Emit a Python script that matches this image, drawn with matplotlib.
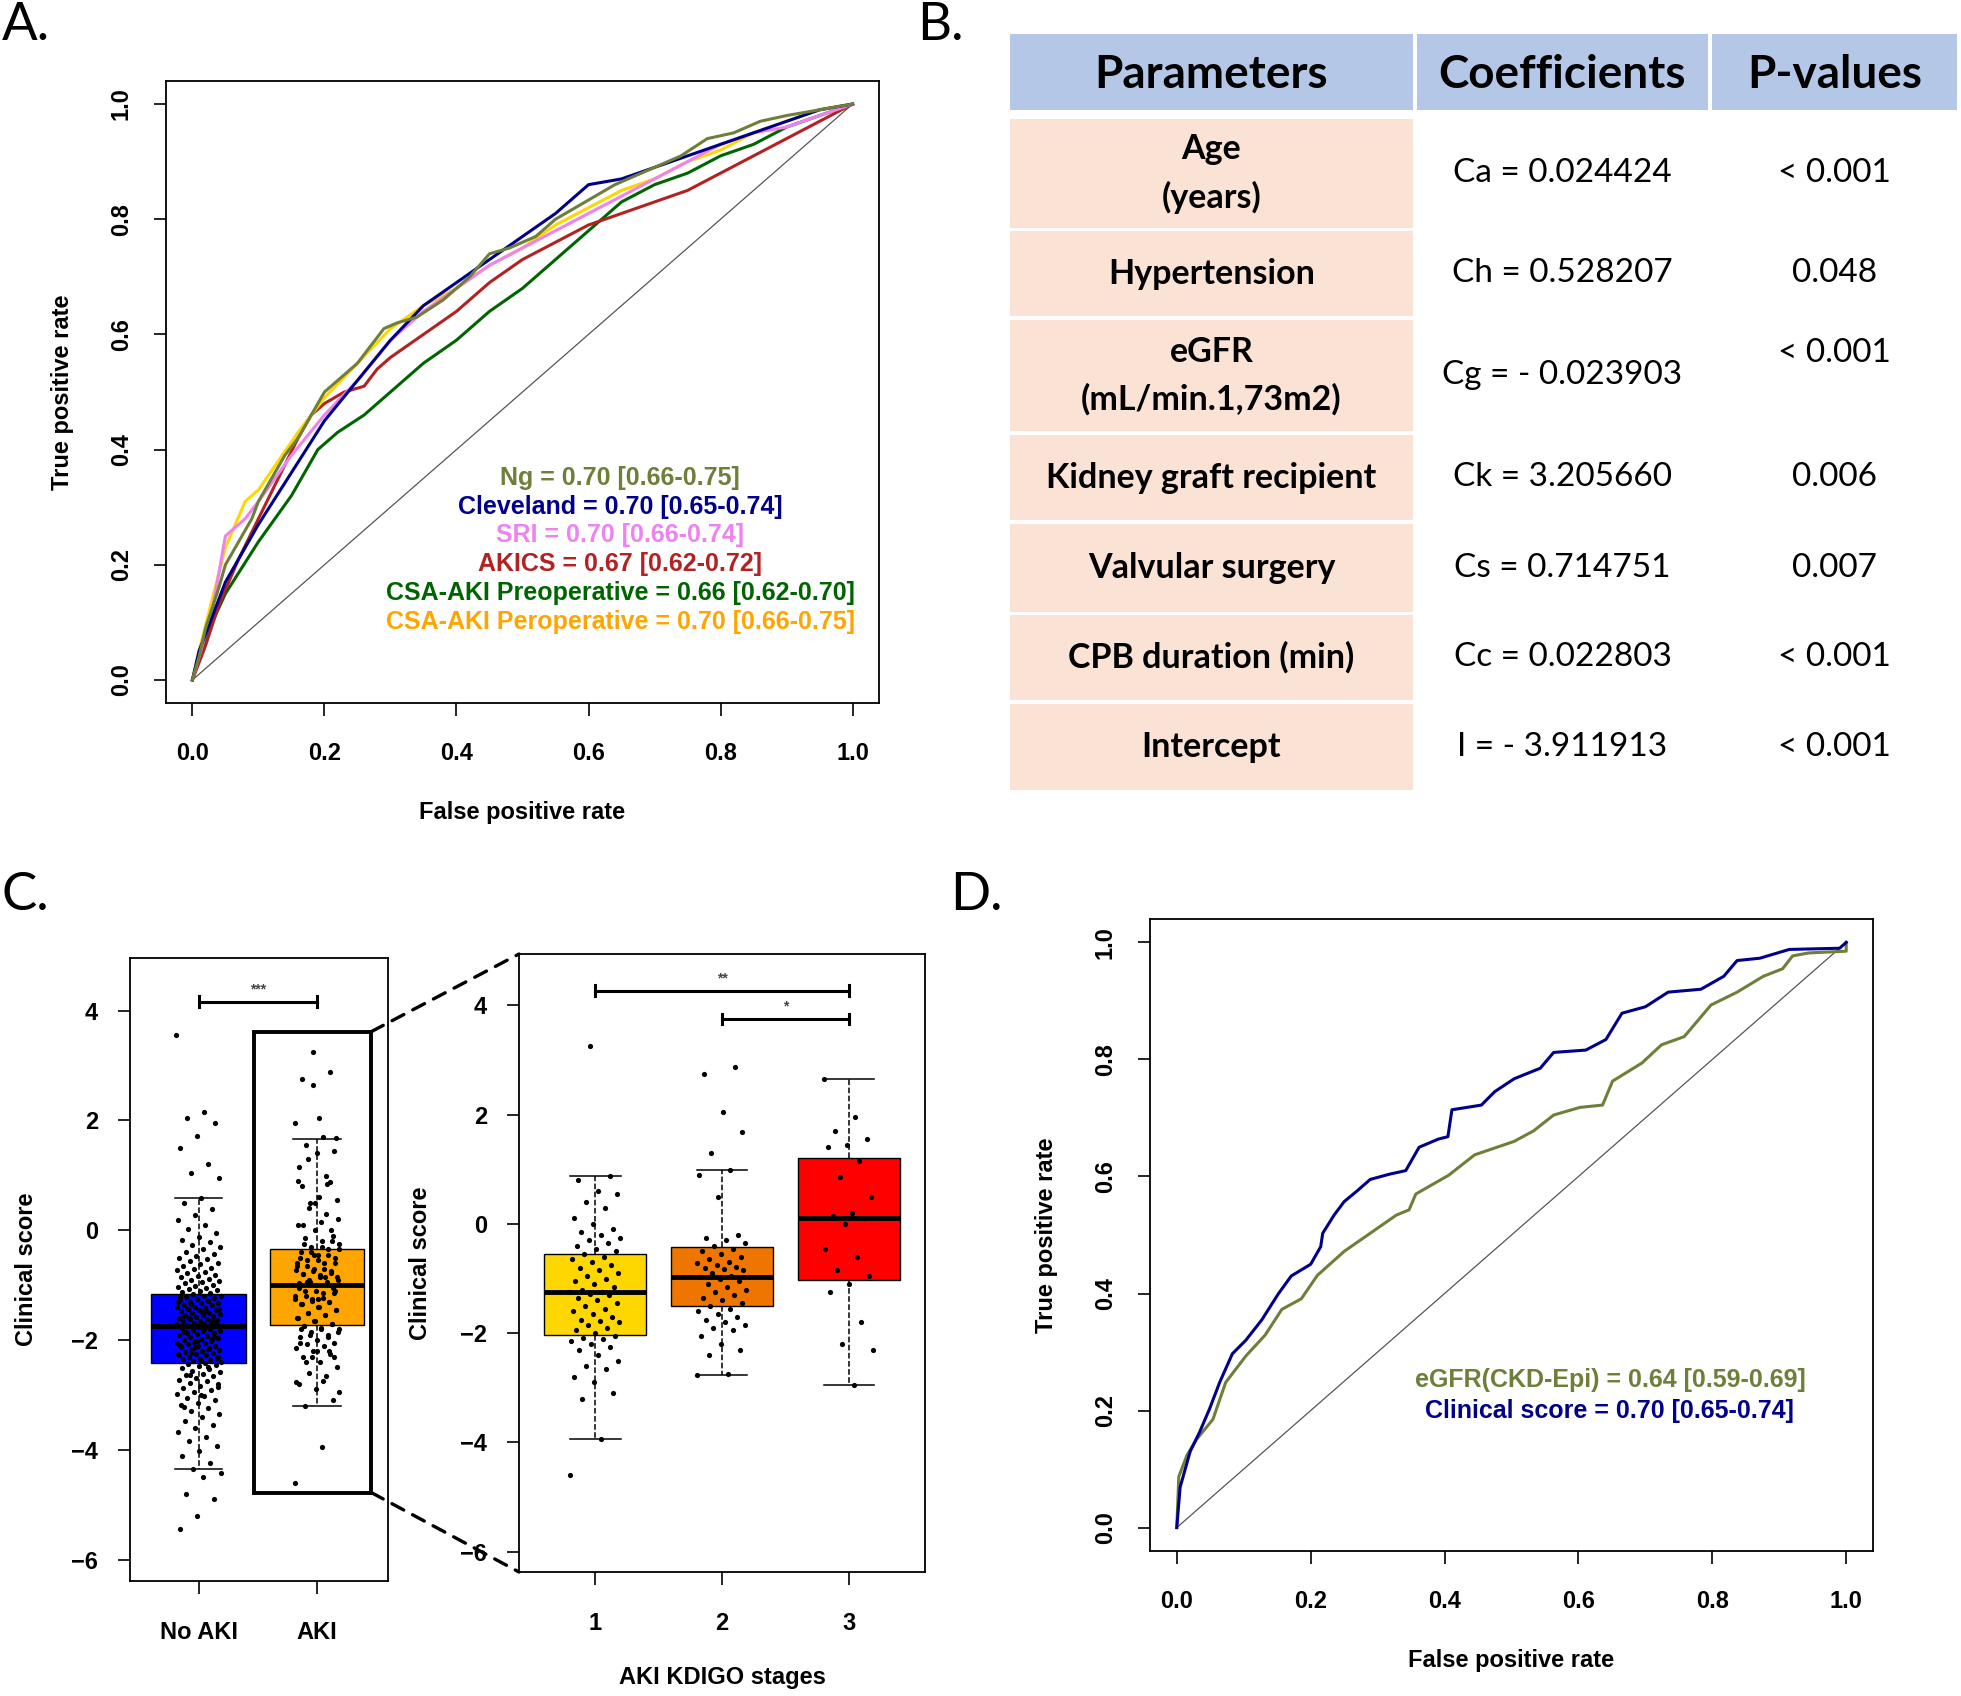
import numpy as np
import matplotlib.pyplot as plt
from matplotlib.patches import Rectangle, ConnectionPatch

W, H = 1961, 1696
plt.rcParams['font.family'] = ['Liberation Sans', 'DejaVu Sans']
plt.rcParams['font.weight'] = 'bold'
plt.rcParams['axes.labelweight'] = 'bold'

# ---------------- data ----------------
# Panel A: ROC curves (false positive rate, true positive rate)
ng_fpr = [0, 0.01, 0.02, 0.04, 0.05, 0.07, 0.09, 0.10, 0.12, 0.14, 0.16, 0.18, 0.20, 0.22, 0.25, 0.27, 0.29, 0.31, 0.34, 0.38, 0.42, 0.45, 0.48, 0.52, 0.55, 0.58, 0.61, 0.64, 0.66, 0.70, 0.74, 0.78, 0.82, 0.86, 0.90, 0.95, 1.0]
ng_tpr = [0, 0.04, 0.09, 0.16, 0.20, 0.24, 0.28, 0.31, 0.35, 0.39, 0.42, 0.46, 0.50, 0.52, 0.55, 0.58, 0.61, 0.62, 0.63, 0.66, 0.70, 0.74, 0.75, 0.77, 0.80, 0.82, 0.84, 0.86, 0.87, 0.89, 0.91, 0.94, 0.95, 0.97, 0.98, 0.99, 1.0]
cl_fpr = [0, 0.01, 0.02, 0.05, 0.10, 0.15, 0.20, 0.25, 0.30, 0.35, 0.40, 0.45, 0.50, 0.55, 0.60, 0.65, 0.70, 0.75, 0.80, 0.85, 0.90, 0.95, 1.0]
cl_tpr = [0, 0.05, 0.08, 0.17, 0.27, 0.36, 0.45, 0.52, 0.59, 0.65, 0.69, 0.73, 0.77, 0.81, 0.86, 0.87, 0.89, 0.91, 0.93, 0.95, 0.97, 0.99, 1.0]
sri_fpr = [0, 0.01, 0.03, 0.05, 0.08, 0.10, 0.15, 0.20, 0.25, 0.30, 0.35, 0.40, 0.45, 0.50, 0.55, 0.60, 0.65, 0.70, 0.75, 0.80, 0.85, 0.90, 0.95, 1.0]
sri_tpr = [0, 0.04, 0.12, 0.25, 0.28, 0.31, 0.39, 0.46, 0.52, 0.59, 0.64, 0.68, 0.72, 0.75, 0.78, 0.81, 0.84, 0.87, 0.90, 0.93, 0.95, 0.96, 0.98, 1.0]
akics_fpr = [0, 0.01, 0.02, 0.04, 0.07, 0.10, 0.13, 0.16, 0.18, 0.20, 0.23, 0.26, 0.28, 0.30, 0.35, 0.40, 0.45, 0.50, 0.55, 0.60, 0.65, 0.70, 0.75, 0.80, 0.85, 0.90, 0.95, 1.0]
akics_tpr = [0, 0.03, 0.06, 0.13, 0.21, 0.28, 0.35, 0.42, 0.46, 0.48, 0.50, 0.51, 0.54, 0.56, 0.60, 0.64, 0.69, 0.73, 0.76, 0.79, 0.81, 0.83, 0.85, 0.88, 0.91, 0.94, 0.97, 1.0]
pre_fpr = [0, 0.01, 0.03, 0.05, 0.10, 0.15, 0.19, 0.22, 0.26, 0.30, 0.35, 0.40, 0.45, 0.50, 0.55, 0.60, 0.65, 0.70, 0.75, 0.80, 0.85, 0.90, 0.95, 1.0]
pre_tpr = [0, 0.04, 0.10, 0.15, 0.24, 0.32, 0.40, 0.43, 0.46, 0.50, 0.55, 0.59, 0.64, 0.68, 0.73, 0.78, 0.83, 0.86, 0.88, 0.91, 0.93, 0.96, 0.98, 1.0]
per_fpr = [0, 0.01, 0.03, 0.05, 0.08, 0.10, 0.13, 0.16, 0.20, 0.25, 0.30, 0.35, 0.40, 0.45, 0.50, 0.55, 0.60, 0.65, 0.70, 0.75, 0.80, 0.85, 0.90, 0.95, 1.0]
per_tpr = [0, 0.05, 0.14, 0.23, 0.31, 0.33, 0.38, 0.43, 0.49, 0.55, 0.61, 0.65, 0.68, 0.72, 0.75, 0.79, 0.82, 0.85, 0.87, 0.90, 0.92, 0.95, 0.97, 0.99, 1.0]

roc_a_labels = ['Ng = 0.70 [0.66-0.75]', 'Cleveland = 0.70 [0.65-0.74]', 'SRI = 0.70 [0.66-0.74]',
                'AKICS = 0.67 [0.62-0.72]', 'CSA-AKI Preoperative = 0.66 [0.62-0.70]',
                'CSA-AKI Peroperative = 0.70 [0.66-0.75]']

# Panel B: logistic model table
table_header = ['Parameters', 'Coefficients', 'P-values']
parameters = ['Age\n(years)', 'Hypertension', 'eGFR\n(mL/min.1,73m2)', 'Kidney graft recipient',
              'Valvular surgery', 'CPB duration (min)', 'Intercept']
coefficients = ['Ca = 0.024424', 'Ch = 0.528207', 'Cg = - 0.023903', 'Ck = 3.205660',
                'Cs = 0.714751', 'Cc = 0.022803', 'I = - 3.911913']
p_values = ['< 0.001', '0.048', '< 0.001', '0.006', '0.007', '< 0.001', '< 0.001']

# Panel C: clinical score by AKI status / KDIGO stage
aki_groups = ['No AKI', 'AKI']
aki_q1 = [-2.41, -1.73]
aki_med = [-1.75, -1.00]
aki_q3 = [-1.16, -0.34]
aki_whislo = [-4.35, -3.21]
aki_whishi = [0.59, 1.66]

stages = ['1', '2', '3']
stage_q1 = [-2.03, -1.50, -1.03]
stage_med = [-1.24, -0.97, 0.11]
stage_q3 = [-0.55, -0.43, 1.21]
stage_whislo = [-3.94, -2.77, -2.95]
stage_whishi = [0.87, 0.98, 2.65]

no_aki_scores = [
    3.55, 2.15, 2.05, 1.95, 1.72, 1.50, 1.20, 1.05, 0.95, 0.59, 0.50, 0.38, 0.27, 0.18, 0.10, 0.02,
    -0.05, -0.12, -0.18, -0.22, -0.27, -0.31, -0.35, -0.39, -0.43, -0.46, -0.50, -0.53, -0.56, -0.59,
    -0.62, -0.65, -0.68, -0.71, -0.73, -0.76, -0.78, -0.81, -0.83, -0.86, -0.88, -0.90, -0.93, -0.95,
    -0.97, -0.99, -1.01, -1.03, -1.05, -1.07, -1.09, -1.11, -1.13, -1.15,
    -1.17, -1.19, -1.20, -1.22, -1.24, -1.25, -1.27, -1.28, -1.31, -1.32, -1.33, -1.36, -1.37, -1.39,
    -1.40, -1.42, -1.44, -1.45, -1.46, -1.48, -1.50, -1.51, -1.53, -1.54, -1.55, -1.57, -1.58, -1.60,
    -1.61, -1.62, -1.64, -1.65, -1.66, -1.68, -1.69, -1.70, -1.71, -1.73, -1.74, -1.75, -1.21, -1.29,
    -1.35, -1.43, -1.49, -1.56, -1.63, -1.72, -1.30, -1.47, -1.59, -1.67,
    -1.76, -1.78, -1.79, -1.81, -1.83, -1.84, -1.86, -1.88, -1.89, -1.91, -1.93, -1.95, -1.96, -1.98,
    -2.00, -2.01, -2.03, -2.05, -2.06, -2.08, -2.10, -2.11, -2.13, -2.15, -2.16, -2.18, -2.20, -2.22,
    -2.23, -2.25, -2.27, -2.28, -2.30, -2.32, -2.34, -2.35, -2.37, -2.39, -2.40, -1.80, -1.87, -1.94,
    -2.02, -2.09, -2.17, -2.24, -2.31, -2.38, -1.85, -1.99, -2.12, -2.26,
    -2.42, -2.44, -2.46, -2.48, -2.51, -2.53, -2.56, -2.58, -2.61, -2.64, -2.66, -2.69, -2.72, -2.75,
    -2.78, -2.81, -2.84, -2.88, -2.91, -2.95, -2.98, -3.02, -3.06, -3.10, -3.14, -3.19, -3.24, -3.29,
    -3.35, -3.41, -3.47, -3.54, -3.61, -3.68, -3.76, -3.84, -3.93, -4.02, -4.12, -4.24, -4.35, -4.42,
    -4.50, -4.80, -4.90, -5.20, -5.45, -2.50, -2.63, -2.86, -3.00, -3.22,
]
stage1_scores = [
    -4.60, -3.94, -3.20, -3.10, -2.90, -2.80, -2.65, -2.60, -2.50, -2.40, -2.30, -2.25, -2.20, -2.15,
    -2.10, -2.08, -2.05, -2.00, -1.95, -1.90, -1.85, -1.80, -1.78, -1.75, -1.70, -1.65, -1.60, -1.55,
    -1.50, -1.45, -1.40, -1.35, -1.30, -1.28, -1.25, -1.24, -1.20, -1.15, -1.10, -1.05, -1.00, -0.95,
    -0.90, -0.85, -0.80, -0.75, -0.70, -0.65, -0.60, -0.55, -0.50, -0.45, -0.40, -0.35, -0.30, -0.25,
    -0.20, -0.15, -0.10, 0.00, 0.10, 0.30, 0.40, 0.55, 0.60, 0.80, 0.87, 3.25,
]
stage2_scores = [
    -2.77, -2.75, -2.40, -2.30, -2.20, -2.05, -1.95, -1.90, -1.85, -1.80, -1.75, -1.70, -1.65, -1.60,
    -1.55, -1.50, -1.45, -1.40, -1.35, -1.30, -1.25, -1.20, -1.15, -1.10, -1.05, -1.00, -0.97, -0.95,
    -0.90, -0.85, -0.82, -0.80, -0.78, -0.75, -0.72, -0.70, -0.65, -0.60, -0.55, -0.50, -0.45, -0.40,
    -0.35, -0.30, -0.25, -0.20, 0.50, 0.90, 0.98, 1.30, 1.68, 2.05, 2.75, 2.88,
]
stage3_scores = [
    2.65, 1.95, 1.70, 1.55, 1.45, 1.40, 1.15, 0.85, 0.50, 0.20, 0.15, 0.10, 0.00, -0.45, -0.60,
    -0.85, -0.95, -1.10, -1.25, -1.80, -2.20, -2.30, -2.95,
]
aki_scores = stage1_scores + stage2_scores + stage3_scores

# Panel D: ROC curves
cs_fpr = [0, 0.005, 0.02, 0.034, 0.049, 0.064, 0.083, 0.103, 0.127, 0.152, 0.171, 0.20, 0.215, 0.218, 0.235, 0.25, 0.269, 0.289, 0.318, 0.342, 0.362, 0.391, 0.405, 0.411, 0.455, 0.475, 0.504, 0.543, 0.563, 0.611, 0.641, 0.665, 0.70, 0.734, 0.783, 0.817, 0.837, 0.871, 0.915, 0.99, 1.0]
cs_tpr = [0, 0.069, 0.13, 0.163, 0.203, 0.248, 0.297, 0.32, 0.355, 0.40, 0.43, 0.45, 0.48, 0.503, 0.534, 0.557, 0.575, 0.595, 0.604, 0.61, 0.65, 0.664, 0.668, 0.714, 0.722, 0.745, 0.767, 0.785, 0.812, 0.816, 0.834, 0.879, 0.89, 0.915, 0.92, 0.942, 0.969, 0.973, 0.988, 0.99, 1.0]
eg_fpr = [0, 0.003, 0.015, 0.029, 0.054, 0.073, 0.103, 0.132, 0.157, 0.186, 0.21, 0.25, 0.289, 0.328, 0.347, 0.357, 0.406, 0.445, 0.504, 0.533, 0.563, 0.602, 0.636, 0.651, 0.695, 0.724, 0.758, 0.798, 0.837, 0.876, 0.905, 0.92, 0.944, 1.0, 1.0]
eg_tpr = [0, 0.087, 0.123, 0.15, 0.185, 0.248, 0.293, 0.329, 0.373, 0.391, 0.431, 0.472, 0.503, 0.534, 0.543, 0.57, 0.602, 0.637, 0.66, 0.678, 0.705, 0.718, 0.722, 0.763, 0.794, 0.825, 0.839, 0.893, 0.915, 0.942, 0.955, 0.977, 0.982, 0.985, 1.0]
roc_d_labels = ['eGFR(CKD-Epi) = 0.64 [0.59-0.69]', 'Clinical score = 0.70 [0.65-0.74]']


def frac(x0, y0, x1, y1):
    """pixel box (top-left origin) -> figure fraction rect"""
    return [x0 / W, 1 - y1 / H, (x1 - x0) / W, (y1 - y0) / H]


def roc_axes(ax):
    ticks = [0, 0.2, 0.4, 0.6, 0.8, 1.0]
    ax.set_xlim(-0.04, 1.04)
    ax.set_ylim(-0.04, 1.04)
    ax.set_xticks(ticks)
    ax.set_xticklabels([f'{t:.1f}' for t in ticks])
    ax.set_yticks(ticks)
    ax.set_yticklabels([f'{t:.1f}' for t in ticks], rotation=90, va='center')
    ax.tick_params(length=9, width=1.2, labelsize=17)
    ax.tick_params(axis='x', pad=19)
    ax.tick_params(axis='y', pad=15)
    for s in ax.spines.values():
        s.set_linewidth(1.3)
    ax.plot([0, 1], [0, 1], color='#555555', lw=0.9)
    ax.set_xlabel('False positive rate', fontsize=17, labelpad=26)
    ax.set_ylabel('True positive rate', fontsize=17, labelpad=26)


fig = plt.figure(figsize=(W / 100, H / 100), dpi=100)

# ---------------- Panel A ----------------
axA = fig.add_axes(frac(166, 81, 879, 703))
roc_axes(axA)
curves_a = [(pre_fpr, pre_tpr, '#006400'), (akics_fpr, akics_tpr, '#B22222'),
            (per_fpr, per_tpr, '#FFD700'), (sri_fpr, sri_tpr, '#EE82EE'),
            (cl_fpr, cl_tpr, '#00008B'), (ng_fpr, ng_tpr, '#6E7F3A')]
for fx_, ty_, c in curves_a:
    axA.plot(fx_, ty_, color=c, lw=2.2)
text_colors_a = ['#6E7F3A', '#00008B', '#EE82EE', '#B22222', '#006400', '#FFA500']
for i, (lab, c) in enumerate(zip(roc_a_labels, text_colors_a)):
    axA.text(0.648, 0.351 - 0.05 * i, lab, color=c, fontsize=18, ha='center', va='center')

# ---------------- Panel B ----------------
axT = fig.add_axes([0, 0, 1, 1], zorder=-1)
axT.set_xlim(0, W)
axT.set_ylim(H, 0)
axT.axis('off')
col_edges = [(1010, 1413), (1417, 1708), (1712, 1957)]
header_y = (34, 110)
row_y = [(119, 228), (231, 316), (320, 431), (435, 520), (524, 612), (615, 700), (704, 790)]
pval_dy = [0, 0, -22, 0, 0, 0, 0]
tfont = ['Lato', 'DejaVu Sans']
for (x0, x1), name in zip(col_edges, table_header):
    axT.add_patch(Rectangle((x0, header_y[0]), x1 - x0, header_y[1] - header_y[0],
                            facecolor='#B4C7E7', edgecolor='none'))
    axT.text((x0 + x1) / 2, sum(header_y) / 2 + 3, name, ha='center', va='center',
             fontsize=33, fontweight='bold', family=tfont)
for i, (y0, y1) in enumerate(row_y):
    x0, x1 = col_edges[0]
    axT.add_patch(Rectangle((x0, y0), x1 - x0, y1 - y0, facecolor='#FAE3D5', edgecolor='none'))
    yc = (y0 + y1) / 2
    axT.text((x0 + x1) / 2, yc, parameters[i], ha='center', va='center', fontsize=24.5,
             fontweight='bold', linespacing=1.55, family=tfont)
    axT.text(sum(col_edges[1]) / 2, yc, coefficients[i], ha='center', va='center', fontsize=24,
             fontweight='normal', family=tfont)
    axT.text(sum(col_edges[2]) / 2, yc + pval_dy[i], p_values[i], ha='center', va='center',
             fontsize=24, fontweight='normal', family=tfont)

# ---------------- Panel C ----------------
def jitter(n, width):
    return ((np.arange(n) * 0.6180339887) % 1 - 0.5) * 2 * width


def box_panel(ax, q1, med, q3, lo, hi, colors):
    stats = [dict(q1=a, med=b, q3=c, whislo=d, whishi=e, fliers=[])
             for a, b, c, d, e in zip(q1, med, q3, lo, hi)]
    bp = ax.bxp(stats, positions=range(1, len(stats) + 1), widths=0.8, capwidths=0.4,
                patch_artist=True, showfliers=False,
                boxprops=dict(edgecolor='black', linewidth=1.0),
                medianprops=dict(color='black', linewidth=3.5),
                whiskerprops=dict(color='black', linestyle='--', linewidth=1.1),
                capprops=dict(color='black', linewidth=1.1))
    for patch, c in zip(bp['boxes'], colors):
        patch.set_facecolor(c)
    ax.set_yticks([4, 2, 0, -2, -4, -6])
    ax.tick_params(length=9, width=1.2, labelsize=17)
    ax.tick_params(axis='y', pad=14)
    ax.tick_params(axis='x', pad=20)
    for s in ax.spines.values():
        s.set_linewidth(1.3)


def sig_bar(ax, x0, x1, y, stars):
    ax.plot([x0, x1], [y, y], color='black', lw=2.2)
    for x in (x0, x1):
        ax.plot([x, x], [y - 0.1, y + 0.1], color='black', lw=2.2)
    ax.text((x0 + x1) / 2, y + 0.1, stars, ha='center', va='bottom', fontsize=10, color='#444444')


axC1 = fig.add_axes(frac(130, 958, 388, 1581))
axC1.set_xlim(0.42, 2.6)
axC1.set_ylim(-6.39, 4.96)
box_panel(axC1, aki_q1, aki_med, aki_q3, aki_whislo, aki_whishi, ['#0000FF', '#FFA500'])
axC1.set_xticks([1, 2])
axC1.set_xticklabels(aki_groups)
for pos, vals in zip([1, 2], [no_aki_scores, aki_scores]):
    axC1.scatter(pos + jitter(len(vals), 0.19), vals, s=14, color='black', linewidths=0, zorder=5)
sig_bar(axC1, 1, 2, 4.16, '***')
axC1.add_patch(Rectangle((1.47, -4.78), 0.99, 8.40, fill=False, edgecolor='black', lw=2.8, zorder=6))
axC1.set_ylabel('Clinical score', fontsize=17, labelpad=24)

axC2 = fig.add_axes(frac(519, 954, 925, 1572))
axC2.set_xlim(0.4, 3.6)
axC2.set_ylim(-6.37, 4.94)
box_panel(axC2, stage_q1, stage_med, stage_q3, stage_whislo, stage_whishi,
          ['#FFD700', '#EE7600', '#FF0000'])
axC2.set_xticks([1, 2, 3])
axC2.set_xticklabels(stages)
for pos, vals in zip([1, 2, 3], [stage1_scores, stage2_scores, stage3_scores]):
    axC2.scatter(pos + jitter(len(vals), 0.2), vals, s=14, color='black', linewidths=0, zorder=5)
sig_bar(axC2, 1, 3, 4.27, '**')
sig_bar(axC2, 2, 3, 3.75, '*')
axC2.set_ylabel('Clinical score', fontsize=17, labelpad=20)
axC2.set_xlabel('AKI KDIGO stages', fontsize=17, labelpad=22)

for ya, yb in [(3.62, 1), (-4.78, 0)]:
    con = ConnectionPatch(xyA=(2.46, ya), coordsA=axC1.transData, xyB=(0, yb),
                          coordsB=axC2.transAxes, linestyle=(0, (4, 3)), lw=2.4, color='black')
    fig.add_artist(con)

# ---------------- Panel D ----------------
axD = fig.add_axes(frac(1150, 919, 1873, 1551))
roc_axes(axD)
axD.plot(eg_fpr, eg_tpr, color='#6E7F3A', lw=2.2)
axD.plot(cs_fpr, cs_tpr, color='#00008B', lw=2.2)
for i, (lab, c) in enumerate(zip(roc_d_labels, ['#6E7F3A', '#00008B'])):
    axD.text(0.647, 0.253 - 0.053 * i, lab, color=c, fontsize=18, ha='center', va='center')

# panel letters
for lab, x, y in [('A.', 2, 2), ('B.', 917, 2), ('C.', 2, 872), ('D.', 950, 872)]:
    fig.text(x / W, 1 - y / H, lab, ha='left', va='top', fontsize=38, fontweight='normal',
             family=tfont)

fig.savefig('out.png', dpi=100)
